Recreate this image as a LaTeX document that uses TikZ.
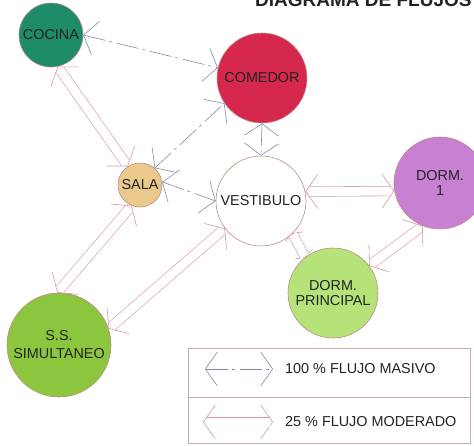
\documentclass[tikz,border=0pt]{standalone}
\usepackage{fontspec}
\setmainfont{Liberation Sans}
\usetikzlibrary{arrows.meta,positioning}
\definecolor{verdecocina}{RGB}{30,140,105}
\definecolor{rojocomedor}{RGB}{214,40,76}
\definecolor{ocresala}{RGB}{233,202,140}
\definecolor{lilados}{RGB}{200,128,210}
\definecolor{verdeprincipal}{RGB}{182,226,122}
\definecolor{verdesimul}{RGB}{140,198,62}
\definecolor{borde}{RGB}{190,140,130}
\definecolor{azulmasivo}{RGB}{128,138,172}
\definecolor{rosamoderado}{RGB}{214,150,160}
\definecolor{bordeley}{RGB}{200,170,172}
\definecolor{texto}{RGB}{35,35,35}
\tikzset{
    galonmas/.tip={Straight Barb[length=12pt, width=34pt]},
    galonmod/.tip={Straight Barb[length=12pt, width=34pt, line width=0.6pt, color=rosamoderado]},
    galoncorto/.tip={Straight Barb[length=3pt, width=20pt, line width=0.6pt, color=rosamoderado]},
    espacio/.style={
        circle,
        draw=borde,
        line width=0.6pt,
        inner sep=0pt,
        align=center,
        text=texto,
        font=\fontsize{14.4}{15}\selectfont
    },
    masivo/.style={
        galonmas-galonmas,
        draw=azulmasivo,
        line width=0.6pt,
        dash pattern=on 22pt off 4pt on 3pt off 5pt
    },
    modpunta/.style={
        galonmod-galonmod,
        draw=white,
        line width=0.01pt
    },
    modlinea/.style={
        draw=rosamoderado,
        line width=0.6pt,
        double=white,
        double distance=9pt,
        shorten <=3.5pt,
        shorten >=3.5pt
    },
    rotulo/.style={
        text=texto,
        inner sep=0pt,
        font=\fontsize{14.4}{15}\selectfont
    }
}
\begin{document}
\begin{tikzpicture}[x=1pt, y=-1pt]
    \useasboundingbox (0,0) rectangle (474,445);

    \node[anchor=base west, inner sep=0pt, text=texto,
          font=\fontsize{19}{20}\selectfont\bfseries] (titulo) at (255,6) {DIAGRAMA DE FLUJOS};

    % Espacios
    \node[espacio, fill=verdecocina, minimum size=64pt] (cocina) at (51,35) {COCINA};
    \node[espacio, fill=rojocomedor, minimum size=90pt] (comedor) at (262,78) {COMEDOR};
    \node[espacio, fill=ocresala, minimum size=44pt] (sala) at (140,185) {SALA};
    \node[espacio, fill=white, minimum size=90pt] (vestibulo) at (261,201) {VESTIBULO};
    \node[espacio, fill=lilados, minimum size=92pt] (dorm1) at (440,183) {DORM.\\1};
    \node[espacio, fill=verdeprincipal, minimum size=90pt] (principal) at (333,293) {DORM.\\PRINCIPAL};
    \node[espacio, fill=verdesimul, minimum size=104pt, font=\fontsize{14.4}{18}\selectfont] (simul) at (59,345) {S.S.\\SIMULTANEO};

    % Flujo masivo
    \foreach \from/\to in {
        cocina.0/comedor.167,
        sala.49/comedor.-146,
        sala.8/vestibulo.180,
        comedor.-90/vestibulo.90%
    } {
        \draw[masivo] (\from) -- (\to);
    }

    % Flujo moderado
    \foreach \from/\to in {
        cocina.-78/sala.123,
        sala.-112/simul.92,
        simul.18/vestibulo.-143,
        vestibulo.12/dorm1.190,
        dorm1.-112/principal.37%
    } {
        \draw[modpunta] (\from) -- (\to);
        \draw[modlinea] (\from) -- (\to);
    }
    \draw[modpunta, galoncorto-galoncorto] (vestibulo.-46) -- (principal.128);
    \draw[modlinea, shorten <=1pt, shorten >=1pt] (vestibulo.-46) -- (principal.128);

    % Leyenda
    \node[draw=bordeley, line width=0.6pt, anchor=north west, inner sep=0pt,
          minimum width=282pt, minimum height=95pt] (leyenda) at (188,348) {};
    \draw[bordeley, line width=0.6pt] (leyenda.west |- 0,397) -- (leyenda.east |- 0,397);

    \coordinate (m1) at (205,369);
    \coordinate (m2) at (273,369);
    \draw[masivo] (m1) -- (m2);
    \node[rotulo, right=12pt of m2] (txtmasivo) {100 \% FLUJO MASIVO};

    \coordinate (n1) at (203,422);
    \coordinate (n2) at (273,422);
    \draw[modpunta] (n1) -- (n2);
    \draw[modlinea] (n1) -- (n2);
    \node[rotulo, right=12pt of n2] (txtmoderado) {25 \% FLUJO MODERADO};
\end{tikzpicture}
\end{document}
